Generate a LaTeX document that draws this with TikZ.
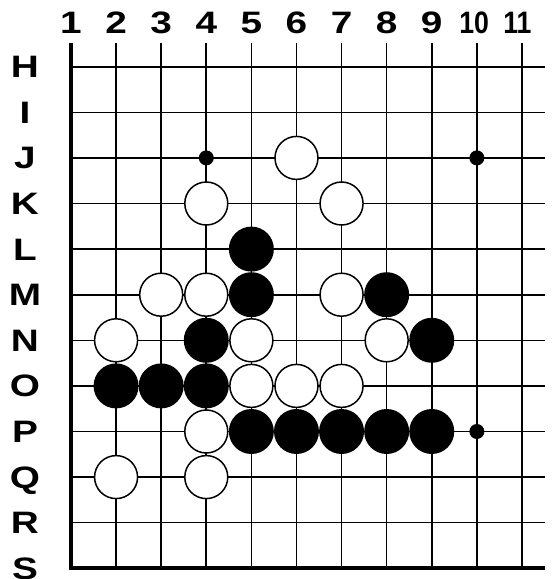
\documentclass[tikz,border=0pt]{standalone}
\usepackage{fontspec}
\setmainfont{Liberation Sans}
\begin{document}
\begin{tikzpicture}[x=45.1pt,y=-45.6pt,
  wstone/.style={circle,draw,fill=white,line width=1.5pt,minimum size=43pt,inner sep=0pt},
  bstone/.style={circle,fill=black,minimum size=45pt,inner sep=0pt},
  hoshi/.style={circle,fill=black,minimum size=15pt,inner sep=0pt},
  lab/.style={font=\fontsize{31}{31}\selectfont\bfseries,text height=22pt,text depth=0pt,inner sep=0pt}]
\useasboundingbox (-1.574,-1.463) rectangle (10.732,11.235);
\foreach \c in {0,...,10} \draw[line width=1.6pt] (\c,-0.513) -- (\c,11);
\foreach \r in {0,...,10} \draw[line width=1.6pt] (0,\r) -- (10.51,\r);
\draw[line width=4.3pt] (0,-0.513) -- (0,11) -- (10.51,11);
\foreach \c in {1,...,9} \node[lab] (c\c) at (\c-1,-0.98) {\scalebox{1.25}[1]{\c}};
\node[lab] (c10) at (8.94,-0.98) {\scalebox{0.86}[1]{10}};
\node[lab] (c11) at (9.9,-0.98) {\scalebox{0.86}[1]{11}};
\foreach \l [count=\i from 0] in {H,I,J,K,L,M,N,O,P,Q,R,S}
  \node[lab] (r\l) at (-1.02,\i) {\scalebox{1.25}[1]{\l}};
\foreach \n/\c/\r in {J4/3/2,J10/9/2,P10/9/8}
  \node[hoshi] (\n) at (\c,\r) {};
\foreach \n/\c/\r in {J6/5/2,K4/3/3,K7/6/3,M3/2/5,M4/3/5,M7/6/5,N2/1/6,N5/4/6,N8/7/6,O5/4/7,O6/5/7,O7/6/7,P4/3/8,Q2/1/9,Q4/3/9}
  \node[wstone] (\n) at (\c,\r) {};
\foreach \n/\c/\r in {L5/4/4,M5/4/5,M8/7/5,N4/3/6,N9/8/6,O2/1/7,O3/2/7,O4/3/7,P5/4/8,P6/5/8,P7/6/8,P8/7/8,P9/8/8}
  \node[bstone] (\n) at (\c,\r) {};
\end{tikzpicture}
\end{document}
